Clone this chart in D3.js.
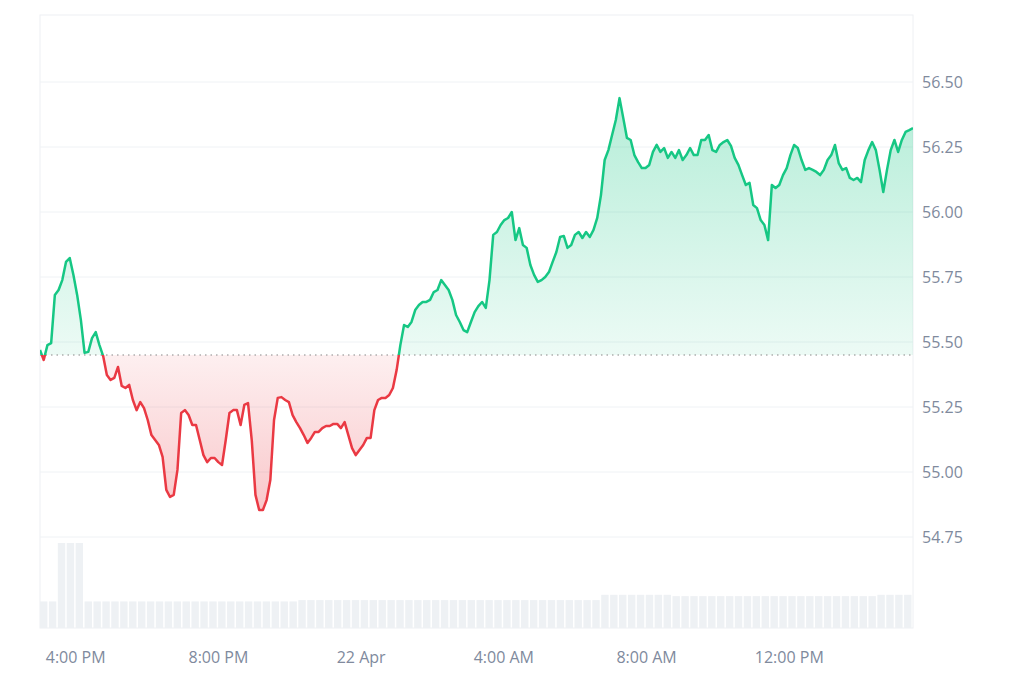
<!DOCTYPE html><html><head><meta charset="utf-8"><script src="https://cdn.jsdelivr.net/npm/d3@7"></script>
<style>body{margin:0;background:#fff}text{font-family:"Open Sans","Noto Sans",sans-serif}</style></head><body><svg id="c" width="1024" height="683"></svg>
<script>
const prices=[55.469,55.431,55.488,55.496,55.681,55.700,55.738,55.808,55.823,55.758,55.681,55.585,55.458,55.462,55.515,55.538,55.488,55.446,55.373,55.354,55.362,55.404,55.331,55.323,55.335,55.277,55.238,55.269,55.246,55.200,55.142,55.123,55.104,55.058,54.931,54.904,54.912,55.008,55.227,55.238,55.219,55.181,55.181,55.123,55.065,55.038,55.054,55.054,55.038,55.027,55.123,55.227,55.238,55.238,55.181,55.258,55.265,55.123,54.912,54.854,54.854,54.892,54.969,55.200,55.285,55.288,55.277,55.269,55.219,55.192,55.169,55.142,55.112,55.131,55.154,55.154,55.169,55.177,55.177,55.185,55.185,55.169,55.192,55.142,55.092,55.065,55.085,55.104,55.131,55.131,55.238,55.277,55.285,55.285,55.296,55.323,55.392,55.488,55.565,55.558,55.577,55.623,55.642,55.654,55.654,55.662,55.692,55.700,55.738,55.719,55.700,55.662,55.604,55.577,55.546,55.538,55.577,55.615,55.638,55.654,55.631,55.738,55.912,55.923,55.950,55.969,55.977,56.000,55.892,55.938,55.873,55.862,55.796,55.758,55.731,55.738,55.750,55.769,55.808,55.846,55.904,55.908,55.862,55.873,55.912,55.923,55.900,55.923,55.904,55.931,55.977,56.065,56.200,56.238,56.296,56.354,56.438,56.362,56.285,56.277,56.219,56.192,56.169,56.169,56.181,56.231,56.258,56.231,56.246,56.208,56.231,56.208,56.238,56.200,56.219,56.246,56.219,56.219,56.277,56.277,56.296,56.238,56.231,56.258,56.269,56.277,56.254,56.208,56.181,56.142,56.104,56.112,56.027,56.015,55.969,55.950,55.892,56.104,56.092,56.104,56.142,56.169,56.219,56.258,56.246,56.200,56.162,56.169,56.162,56.154,56.142,56.162,56.200,56.219,56.258,56.188,56.162,56.169,56.131,56.123,56.131,56.115,56.200,56.238,56.269,56.238,56.162,56.077,56.162,56.238,56.277,56.231,56.277,56.308,56.315,56.323];
const volumes=[1.0,1.0,3.2,3.2,3.2,1.0,1.0,1.0,1.0,1.0,1.0,1.0,1.0,1.0,1.0,1.0,1.0,1.0,1.0,1.0,1.0,1.0,1.0,1.0,1.0,1.0,1.0,1.0,1.0,1.05,1.05,1.05,1.05,1.05,1.05,1.05,1.05,1.05,1.05,1.05,1.05,1.05,1.05,1.05,1.05,1.05,1.05,1.05,1.05,1.05,1.05,1.05,1.05,1.05,1.05,1.05,1.05,1.05,1.05,1.05,1.05,1.05,1.05,1.25,1.25,1.25,1.25,1.25,1.25,1.25,1.25,1.2,1.2,1.2,1.2,1.2,1.2,1.2,1.2,1.2,1.2,1.2,1.2,1.2,1.2,1.2,1.2,1.2,1.2,1.2,1.2,1.2,1.2,1.2,1.25,1.25,1.25,1.25];
const baseline=55.45;
const yTicks=[54.75,55.00,55.25,55.50,55.75,56.00,56.25,56.50];
const xTickTimes=["2024-04-21T16:00","2024-04-21T20:00","2024-04-22T00:00","2024-04-22T04:00","2024-04-22T08:00","2024-04-22T12:00"];
const xTickLabels=["4:00 PM","8:00 PM","22 Apr","4:00 AM","8:00 AM","12:00 PM"];
const startT=new Date("2024-04-21T15:00"), endT=new Date("2024-04-22T15:28");

const svg=d3.select("#c");
const L=40,R=913,T=15,B=628;
const x=d3.scaleTime().domain([startT,endT]).range([L,R]);
const y=d3.scaleLinear().domain([56.5+(82-T)/260,56.5-(B-82)/260]).range([T,B]);
const yv=d3.scaleLinear().domain([0,3.2]).range([B,543]);
const step=(endT-startT)/(prices.length-1);
const data=prices.map((p,i)=>({t:new Date(+startT+i*step),p}));
const defs=svg.append("defs");
const gg=defs.append("linearGradient").attr("id","gg").attr("x1",0).attr("x2",0).attr("gradientUnits","userSpaceOnUse").attr("y1",y(56.45)).attr("y2",y(baseline));
gg.append("stop").attr("offset",0).attr("stop-color","#16c784").attr("stop-opacity",0.32);
gg.append("stop").attr("offset",1).attr("stop-color","#16c784").attr("stop-opacity",0.08);
const rg=defs.append("linearGradient").attr("id","rg").attr("x1",0).attr("x2",0).attr("gradientUnits","userSpaceOnUse").attr("y1",y(baseline)).attr("y2",y(54.85));
rg.append("stop").attr("offset",0).attr("stop-color","#ea3943").attr("stop-opacity",0.08);
rg.append("stop").attr("offset",1).attr("stop-color","#ea3943").attr("stop-opacity",0.28);
defs.append("clipPath").attr("id","ca").append("rect").attr("x",L).attr("y",T).attr("width",R-L).attr("height",y(baseline)-T);
defs.append("clipPath").attr("id","cb").append("rect").attr("x",L).attr("y",y(baseline)).attr("width",R-L).attr("height",B-y(baseline));

svg.append("rect").attr("x",L).attr("y",T).attr("width",R-L).attr("height",B-T).attr("fill","none").attr("stroke","#eef0f3");
svg.append("g").selectAll("line").data(yTicks).join("line").attr("x1",L).attr("x2",R).attr("y1",d=>y(d)).attr("y2",d=>y(d)).attr("stroke","#eff2f5");
svg.append("g").selectAll("text").data(yTicks).join("text").attr("x",922).attr("y",d=>y(d)+6).attr("font-size",16).attr("fill","#808a9d").text(d=>d.toFixed(2));
const bw=(R-L)/volumes.length;
svg.append("g").selectAll("rect").data(volumes).join("rect").attr("x",(d,i)=>L+i*bw).attr("width",bw-1.5).attr("y",d=>yv(d)).attr("height",d=>B-yv(d)).attr("fill","#eef1f4");
const area=d3.area().x(d=>x(d.t)).y0(y(baseline)).y1(d=>y(d.p));
const line=d3.line().x(d=>x(d.t)).y(d=>y(d.p));
svg.append("path").datum(data).attr("d",area).attr("fill","url(#gg)").attr("clip-path","url(#ca)");
svg.append("path").datum(data).attr("d",area).attr("fill","url(#rg)").attr("clip-path","url(#cb)");
svg.append("line").attr("x1",L).attr("x2",R).attr("y1",y(baseline)).attr("y2",y(baseline)).attr("stroke","#888").attr("stroke-dasharray","1.5,4").attr("stroke-width",1.2);
svg.append("path").datum(data).attr("d",line).attr("fill","none").attr("stroke","#16c784").attr("stroke-width",2.5).attr("stroke-linejoin","round").attr("clip-path","url(#ca)");
svg.append("path").datum(data).attr("d",line).attr("fill","none").attr("stroke","#ea3943").attr("stroke-width",2.5).attr("stroke-linejoin","round").attr("clip-path","url(#cb)");
svg.append("g").selectAll("text").data(xTickTimes).join("text").attr("x",d=>x(new Date(d))).attr("y",663).attr("text-anchor","middle").attr("font-size",16).attr("fill","#808a9d").text((d,i)=>xTickLabels[i]);
</script></body></html>
